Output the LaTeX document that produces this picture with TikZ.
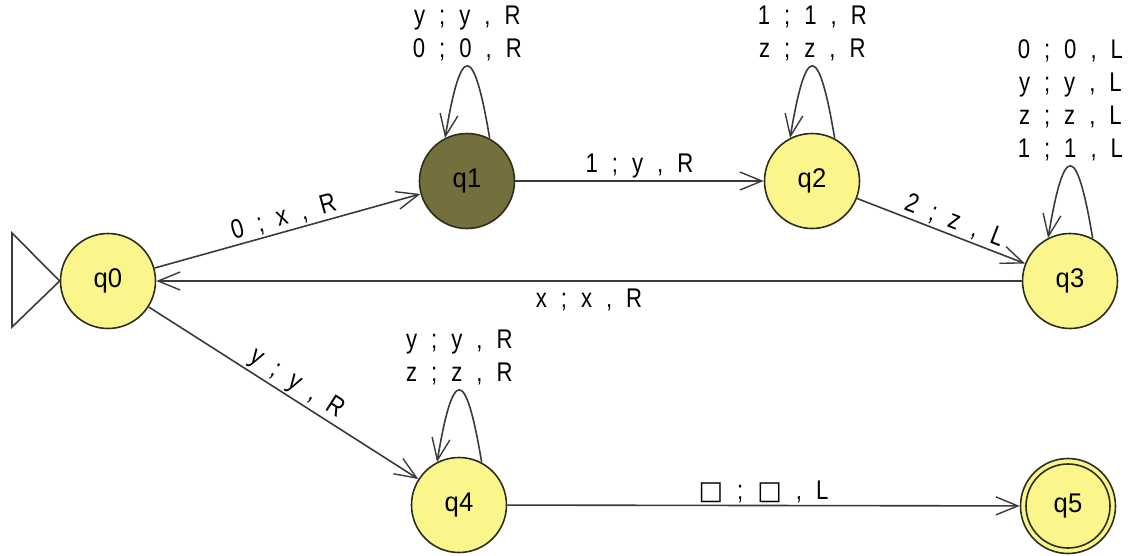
\documentclass[tikz,border=0pt]{standalone}
\usepackage{fontspec}
\usetikzlibrary{arrows.meta}
\newfontfamily\lf[FakeStretch=0.82]{Liberation Sans}
\newfontfamily\stf[FakeStretch=0.95]{Liberation Sans}
\newfontfamily\dv{DejaVu Sans}
\newlength\gp
\setlength\gp{14pt}
\newcommand\trn[3]{#1\hspace{\gp};\hspace{\gp}#2\hspace{\gp},\hspace{\gp}#3}
\newcommand\bx{{\dv\fontsize{26}{26}\selectfont □}}
\definecolor{stfill}{RGB}{250,246,140}
\definecolor{selfill}{RGB}{115,112,62}
\definecolor{edgecol}{RGB}{58,58,58}
\definecolor{rim}{RGB}{45,45,30}
\tikzset{
  state/.style={circle, draw=rim, line width=1.6pt, fill=stfill, minimum size=95pt, inner sep=0pt, font=\stf\fontsize{27}{27}\selectfont},
  edge/.style={draw=edgecol, line width=1.6pt, -{Straight Barb[length=22pt,width=18pt,line width=1.4pt]}},
  lbl/.style={font=\lf\fontsize{27}{33}\selectfont, text=black, inner sep=2pt, align=center},
  looplbl/.style={lbl, anchor=south, pos=0.5, inner sep=4pt},
  initline/.style={draw=edgecol, line width=1.6pt, line join=miter}
}
\begin{document}
\begin{tikzpicture}[x=1pt,y=-1pt]
\useasboundingbox (0,0) rectangle (1133,555);
\node[state] (q0) at (108,281) {q0};
\node[state, fill=selfill] (q1) at (467,181) {q1};
\node[state] (q2) at (812,181) {q2};
\node[state] (q3) at (1070,281) {q3};
\node[state] (q4) at (459,505) {q4};
\node[state] (q5) at (1068,506) {q5};
\draw[draw=rim, line width=1.6pt] (q5.center) circle (42pt);
% initial arrow
\coordinate (i1) at (12,233);
\coordinate (i2) at (12,327);
\draw[initline] (i1) -- (q0.west) -- (i2) -- cycle;
% transitions
\draw[edge] (q0) -- node[lbl, sloped, above, pos=0.5] {\trn{0}{x}{R}} (q1);
\draw[edge] (q1) -- node[lbl, above, pos=0.5] {\trn{1}{y}{R}} (q2);
\draw[edge] (q2) -- node[lbl, sloped, above, pos=0.55] {\trn{2}{z}{L}} (q3);
\draw[edge] (q3) -- node[lbl, below=5pt, pos=0.5] {\trn{x}{x}{R}} (q0);
\draw[edge] (q0) -- node[lbl, sloped, above, pos=0.52] {\trn{y}{y}{R}} (q4);
\draw[edge] (q4) -- node[lbl, above, pos=0.5] {\trn{\bx}{\bx}{L}} (q5);
% loops
\draw[edge] (q1.62) .. controls +(-16,-96) and +(16,-96) .. node[looplbl] {\trn{y}{y}{R}\\\trn{0}{0}{R}} (q1.117);
\draw[edge] (q2.62) .. controls +(-16,-96) and +(16,-96) .. node[looplbl] {\trn{1}{1}{R}\\\trn{z}{z}{R}} (q2.117);
\draw[edge] (q3.62) .. controls +(-16,-96) and +(16,-96) .. node[looplbl] {\trn{0}{0}{L}\\\trn{y}{y}{L}\\\trn{z}{z}{L}\\\trn{1}{1}{L}} (q3.117);
\draw[edge] (q4.62) .. controls +(-16,-96) and +(16,-96) .. node[looplbl] {\trn{y}{y}{R}\\\trn{z}{z}{R}} (q4.117);
\end{tikzpicture}
\end{document}
